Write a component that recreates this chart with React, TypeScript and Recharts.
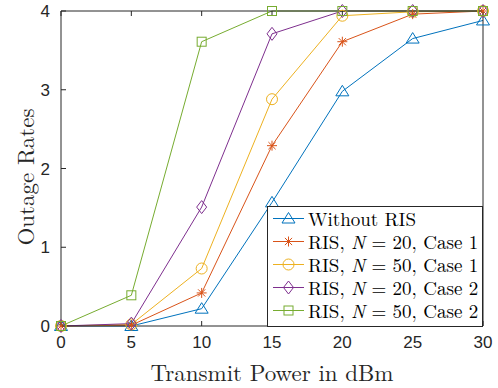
import { LineChart, Line, XAxis, YAxis } from "recharts";

// transmit power (dBm)
const power = [0, 5, 10, 15, 20, 25, 30];

// outage rates per scheme
const withoutRis = [0, 0, 0.22, 1.57, 2.98, 3.65, 3.88];
const ris20Case1 = [0, 0.01, 0.42, 2.29, 3.61, 3.96, 4.0];
const ris50Case1 = [0, 0.02, 0.73, 2.88, 3.94, 3.99, 4.0];
const ris20Case2 = [0, 0.03, 1.51, 3.71, 4.0, 4.0, 4.0];
const ris50Case2 = [0, 0.39, 3.61, 4.0, 4.0, 4.0, 4.0];

const xTicks = [0, 5, 10, 15, 20, 25, 30];
const yTicks = [0, 1, 2, 3, 4];

const series = [
  { key: "s1", name: "Without RIS", n: "", cs: "", values: withoutRis, color: "#0072BD", marker: "triangle" },
  { key: "s2", name: "RIS", n: "20", cs: "1", values: ris20Case1, color: "#D95319", marker: "star" },
  { key: "s3", name: "RIS", n: "50", cs: "1", values: ris50Case1, color: "#EDB120", marker: "circle" },
  { key: "s4", name: "RIS", n: "20", cs: "2", values: ris20Case2, color: "#7E2F8E", marker: "diamond" },
  { key: "s5", name: "RIS", n: "50", cs: "2", values: ris50Case2, color: "#77AC30", marker: "square" },
];

const data = power.map((p, i) => {
  const row: any = { power: p };
  series.forEach((s) => {
    row[s.key] = s.values[i];
  });
  return row;
});

const axisColor = "#262626";
const serif = "'Latin Modern Roman', 'Liberation Serif', 'DejaVu Serif', serif";
const sans = "'Liberation Sans', Arial, sans-serif";

const Marker = ({ type, cx, cy, color }: any) => {
  if (cx == null || cy == null) return <g />;
  const common = { fill: "none", stroke: color, strokeWidth: 1 };
  switch (type) {
    case "triangle":
      return <polygon points={`${cx},${cy - 6} ${cx - 6.5},${cy + 4.5} ${cx + 6.5},${cy + 4.5}`} {...common} />;
    case "star":
      return (
        <g {...common}>
          <line x1={cx - 5} y1={cy} x2={cx + 5} y2={cy} />
          <line x1={cx} y1={cy - 5} x2={cx} y2={cy + 5} />
          <line x1={cx - 3.6} y1={cy - 3.6} x2={cx + 3.6} y2={cy + 3.6} />
          <line x1={cx - 3.6} y1={cy + 3.6} x2={cx + 3.6} y2={cy - 3.6} />
        </g>
      );
    case "circle":
      return <circle cx={cx} cy={cy} r={5.5} {...common} />;
    case "diamond":
      return <polygon points={`${cx},${cy - 6.5} ${cx + 5},${cy} ${cx},${cy + 6.5} ${cx - 5},${cy}`} {...common} />;
    default:
      return <rect x={cx - 4.5} y={cy - 4.5} width={9} height={9} {...common} />;
  }
};

const EmptyTick = () => <g />;

// axis titles
const XTitle = ({ viewBox }: any) => (
  <text
    x={viewBox.x + viewBox.width / 2}
    y={371}
    textAnchor="middle"
    dominantBaseline="central"
    fill={axisColor}
    style={{ fontSize: 23, fontFamily: serif }}
  >
    Transmit Power in dBm
  </text>
);

const YTitle = () => (
  <text
    x={24}
    y={177}
    transform="rotate(-90, 24, 177)"
    textAnchor="middle"
    dominantBaseline="central"
    fill={axisColor}
    style={{ fontSize: 23, fontFamily: serif }}
  >
    Outage Rates
  </text>
);

export default function App() {
  return (
    <div style={{ position: "absolute", left: 0, top: 0, width: 498, height: 388, background: "#fff" }}>
      <LineChart width={498} height={388} data={data} margin={{ top: 0, right: 0, bottom: 0, left: 0 }}>
        <XAxis
          dataKey="power"
          type="number"
          domain={[0, 30]}
          ticks={xTicks}
          height={62}
          tickSize={-5}
          tickMargin={15}
          stroke={axisColor}
          tick={{ fill: axisColor, fontSize: 17, fontFamily: sans }}
          label={<XTitle />}
        />
        <XAxis
          xAxisId="top"
          dataKey="power"
          type="number"
          orientation="top"
          domain={[0, 30]}
          ticks={xTicks}
          height={11}
          tickSize={-5}
          stroke={axisColor}
          tick={EmptyTick}
        />
        <YAxis
          type="number"
          domain={[0, 4]}
          ticks={yTicks}
          width={61}
          tickSize={-5}
          tickMargin={16}
          stroke={axisColor}
          tick={{ fill: axisColor, fontSize: 17, fontFamily: sans }}
          label={<YTitle />}
        />
        <YAxis
          yAxisId="right"
          type="number"
          orientation="right"
          domain={[0, 4]}
          ticks={yTicks}
          width={15}
          tickSize={-5}
          stroke={axisColor}
          tick={EmptyTick}
        />
        {series.map((s) => (
          <Line
            key={s.key}
            dataKey={s.key}
            type="linear"
            stroke={s.color}
            strokeWidth={1}
            isAnimationActive={false}
            dot={(p: any) => <Marker key={`${s.key}-${p.index}`} type={s.marker} cx={p.cx} cy={p.cy} color={s.color} />}
            activeDot={false}
          />
        ))}
      </LineChart>
      <div
        style={{
          position: "absolute",
          left: 267,
          top: 206,
          width: 214,
          height: 119,
          border: `1px solid ${axisColor}`,
          background: "#fff",
          fontFamily: serif,
          fontSize: 19,
          lineHeight: "20px",
          color: "#000",
          boxSizing: "content-box",
        }}
      >
        {series.map((s) => (
          <div key={s.key} style={{ display: "flex", alignItems: "center", height: 23 }}>
            <svg width={40} height={23} style={{ flex: "none" }}>
              <line x1={5} y1={11.5} x2={36} y2={11.5} stroke={s.color} strokeWidth={1} />
              <Marker type={s.marker} cx={20.5} cy={11.5} color={s.color} />
            </svg>
            <span style={{ whiteSpace: "nowrap" }}>
              {s.n ? (
                <>
                  {s.name}, <i>N</i> = {s.n}, Case {s.cs}
                </>
              ) : (
                s.name
              )}
            </span>
          </div>
        ))}
      </div>
    </div>
  );
}
